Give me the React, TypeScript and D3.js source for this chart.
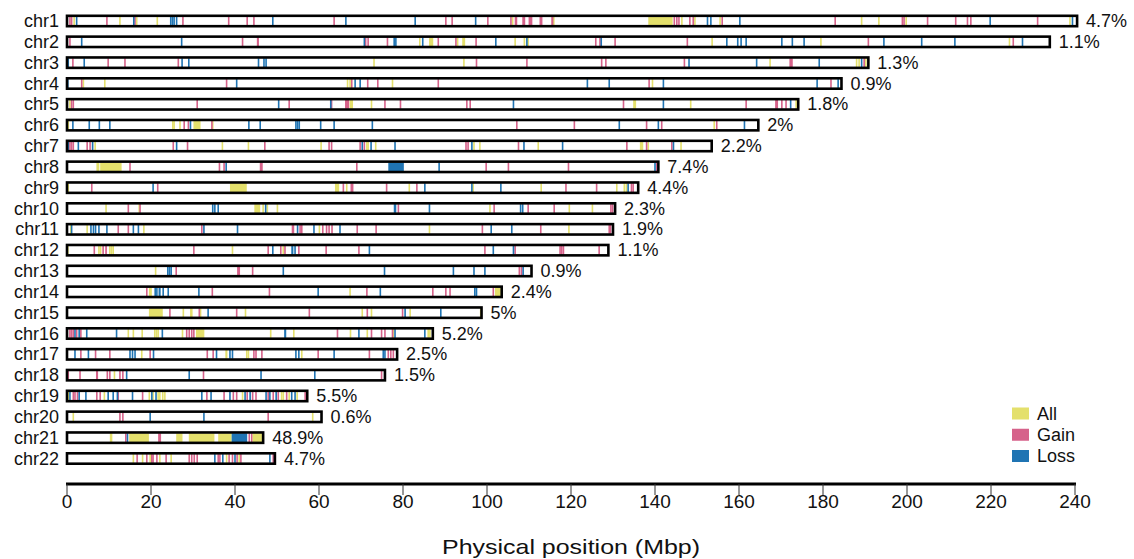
import React from "react";
import * as d3 from "d3";

// chromosome names, lengths (Mbp, as drawn) and the percentage shown at the end of each bar
const CHROMS = [
  "chr1", "chr2", "chr3", "chr4", "chr5", "chr6", "chr7", "chr8", "chr9", "chr10", "chr11",
  "chr12", "chr13", "chr14", "chr15", "chr16", "chr17", "chr18", "chr19", "chr20", "chr21", "chr22",
];
const LENGTHS = [
  240.5, 234, 190.8, 184.4, 174.1, 164.6, 153.5, 140.8, 136, 130.5, 130,
  128.9, 110.6, 103.5, 98.7, 87.1, 78.6, 75.7, 57.2, 60.6, 46.7, 49.5,
];
const PERCENTS = [
  "4.7%", "1.1%", "1.3%", "0.9%", "1.8%", "2%", "2.2%", "7.4%", "4.4%", "2.3%", "1.9%",
  "1.1%", "0.9%", "2.4%", "5%", "5.2%", "2.5%", "1.5%", "5.5%", "0.6%", "48.9%", "4.7%",
];
const X_TICKS = [0, 20, 40, 60, 80, 100, 120, 140, 160, 180, 200, 220, 240];

// thin marks (positions in Mbp), one list per chromosome
const gainMarks: number[][] = [
  [0.7, 1.1, 9.5, 16.2, 27.6, 38.5, 42.9, 44.5, 63.6, 90.2, 91.7, 100.2, 105.7, 144.6, 145.2, 145.7, 148.3, 149.1, 156, 182.9, 198.9, 199.3, 204.9, 211.6, 214.4, 215.2, 231.1],
  [0.7, 41.8, 71.1, 71.7, 76.3, 88.4, 92.6, 97.4, 125.9, 126.9, 130.5, 147.7, 190.8, 225.3],
  [1.4, 9.8, 13.8, 26.5, 97.5, 109.5, 127.3, 128.3, 147, 189.8],
  [3.5, 38, 67.8, 71.6, 74, 88.4, 138.6, 181.9],
  [1.1, 1.5, 31, 52.9, 63, 75.7, 79.4, 95.2, 96, 132.5, 161.7, 170.2, 171.2],
  [27.9, 28.9, 34.5, 107.1, 120.8, 138, 141.6, 154.7],
  [0.7, 1.1, 1.5, 4.8, 5.5, 25.3, 28.7, 47.1, 62.4, 63, 69.8, 70.8, 95, 95.5, 107.5, 133.3, 138, 144],
  [15, 36.3, 37.4, 69, 99.8, 105.1, 119.4, 140.4],
  [5.9, 21.6, 65.8, 76.1, 83.3, 118.8, 126.1, 134.4, 134.8],
  [14.6, 17.4, 78.9, 101.7, 109.8, 116, 129.5, 129.9],
  [12.2, 14.6, 32.1, 55.5, 55.9, 60.9, 61.8, 62.4, 63.1, 69.1, 73.6, 98.9, 112.8, 129.1, 129.4],
  [6.5, 8.6, 30.2, 47.9, 50.9, 51.9, 55.2, 61.7, 69.5, 99.5, 106.7, 117.4, 117.8, 118.2, 126.7],
  [26, 44.2, 107.7, 108.2],
  [19, 34.6, 48.2, 71.4, 87.1, 90.2, 91.2, 101.5],
  [24.5, 31.5, 40.4, 57.7, 71.5, 79.9],
  [0.7, 1.1, 1.5, 2.3, 3.3, 28.5, 29.1, 29.7, 30.2, 64.4, 72.5, 74.9, 75.7, 77.5],
  [3.3, 6.8, 10.2, 19.8, 33.4, 34.8, 44.5, 45, 46.4, 59.8, 72, 76.5, 77.1, 77.7],
  [0.3, 3.1, 9.6, 10.2, 12.6, 13.3, 32.5, 74.9],
  [1.5, 1.9, 2.5, 7.1, 7.9, 12.2, 18, 33.3, 37.4, 39.6, 40.4, 42.9, 44.2, 45, 47.9, 49.1, 50.3, 52.3, 56.7],
  [12.6, 13.3, 47.9],
  [14, 43.4],
  [16.7, 19, 20.5, 21.4, 23.6, 29.1, 29.7, 30.3, 31, 36, 36.4, 38.6, 39.4, 40.5, 41.4, 49.1],
];
const allMarks: number[][] = [
  [1.7, 12.6, 16.6, 21.5, 106.1, 115.9, 146.4, 149.5, 155.5, 189.2, 193.3, 199.8, 238.8],
  [84, 93, 106.7, 108.9, 109.8, 153.6, 179.5, 224.4],
  [73.1, 94.5, 167.4, 188, 188.6, 190.2],
  [3.9, 9, 66.8, 67.4, 77.5, 139.4],
  [0.7, 72.5, 148.5, 173.6],
  [0.3, 25.2, 25.5, 26.9, 34.7, 154.1],
  [6.7, 37, 43.2, 60.5, 71.4, 71.7, 73.5, 96.9, 98.3, 112.2, 138.4, 146.2],
  [],
  [0.3, 66.6, 81.5, 96.7, 112.9, 130.9, 132.7, 133.2],
  [9.3, 17.2, 46.7, 47.7, 50.1, 100.7, 119.6, 125.1],
  [0.9, 4.8, 18.3, 60.1, 86.3, 119.5],
  [0.2, 7.6, 8, 10.2, 10.6, 11, 39.4, 51.5],
  [21.1],
  [67.4],
  [27.7, 31.8, 42.5, 70.3, 72.5, 81.7, 98.5],
  [14.6, 15.8, 17.9, 20.9, 21.3, 21.7, 27.5, 48.5, 54, 67.5, 71.5, 77.7, 86, 86.4],
  [17.8, 42.8, 43.2, 55.9],
  [11.3],
  [0.3, 8.9, 19.6, 20.5, 21.7, 22.1, 22.8, 23.3, 41.8, 51.1, 51.5, 52.9, 54.8],
  [1.5, 58.5],
  [],
  [15.8, 18, 19.8, 22.1, 24.8, 38, 41],
];
const lossMarks: number[][] = [
  [2.3, 15.9, 24.7, 25.1, 25.5, 26.1, 49, 66.4, 82.9, 97.3, 152.5, 153.3, 160.2, 219.8, 239.4],
  [3.5, 27.3, 70.8, 77.9, 78.3, 84.7, 102.1, 109.5, 127.2, 157.1, 159.7, 160.5, 161.7, 170.2, 172.7, 175.5, 194.5, 203.5, 211.4, 227.5],
  [0.3, 4.1, 27.4, 29, 45.6, 46.9, 47.4, 148.1, 164.2, 179.1, 189.2],
  [0.2, 40.4, 68.6, 69.8, 123.9, 129.1, 142, 178.6, 183.6],
  [50.4, 62.8, 106.3, 142, 172.3],
  [1.4, 5.3, 7.7, 10.2, 29.4, 43.3, 46, 54.5, 54.9, 55.3, 60.4, 63.6, 72.7, 131.5, 140.8, 161.3],
  [0.3, 2.7, 6.1, 26.1, 70.3, 72.4, 78.1, 96.4, 108.8, 118, 144.4],
  [37.9, 88.6, 140],
  [20.5, 85.2, 96.4, 103.3, 133.6],
  [34.7, 35.2, 36, 47.3, 86.3, 108, 108.5],
  [1.1, 5.7, 6.3, 6.8, 7.6, 9.5, 15.8, 17, 32.6, 40.6, 54.9, 58.8, 65, 101, 105.9],
  [49, 54.3, 72, 101.5, 106.3],
  [24, 24.4, 24.8, 51.5, 75.6, 92, 96.9, 99.5, 108.6],
  [21, 21.4, 22.9, 24.1, 31.4, 59.8, 74.6, 97.1, 97.5],
  [33.6, 80.5, 89],
  [1.9, 2.9, 4.7, 11.8, 22.7, 69.5, 78.1, 85.2],
  [1.9, 5.1, 15, 15.6, 16.2, 20.6, 35.6, 38.8, 39.4, 54.5, 55.2, 63.6, 75.3, 75.7],
  [14.2, 29.1, 46.2, 59],
  [0.7, 2.9, 4.5, 9.8, 11, 12, 15.6, 20.2, 21.2, 32.1, 34.3, 38.8, 42.4, 43.6, 47.4, 48.3, 49.8, 53.5, 54.3],
  [19.8, 32.6],
  [14.4],
  [35.2, 37.1, 40, 48.3],
];

// wider segments: [chromosome index, start, end, type]
const blocks: [number, number, number, string][] = [
  [0, 138.4, 144.2, "All"], [0, 106.6, 107.2, "Gain"], [0, 108.4, 109.1, "Gain"], [0, 109.9, 110.8, "Gain"],
  [0, 112.5, 113.2, "Gain"], [0, 115.3, 115.8, "Gain"],
  [1, 86.2, 87.2, "All"], [1, 94.1, 94.8, "All"], [1, 45.2, 45.7, "Gain"],
  [2, 172, 172.8, "Gain"],
  [4, 66.2, 67.2, "Gain"], [4, 67.3, 68.1, "All"], [4, 134.8, 135.5, "All"], [4, 168.6, 169.3, "Gain"],
  [5, 30.1, 31.8, "All"],
  [6, 136.4, 137.2, "All"],
  [7, 7.0, 7.7, "All"], [7, 7.9, 13, "All"], [7, 45.9, 46.6, "Gain"], [7, 76.5, 80.2, "Loss"],
  [8, 38.8, 42.8, "All"], [8, 63.8, 64.8, "All"], [8, 67.5, 68.2, "Gain"],
  [9, 44.6, 46, "All"], [9, 77.8, 78.4, "Loss"],
  [10, 53.5, 54.1, "Gain"],
  [11, 9.1, 9.5, "Gain"], [11, 53.4, 53.9, "Loss"],
  [12, 40.5, 41.2, "Gain"],
  [13, 19.5, 20.2, "All"], [13, 21.8, 22.3, "Loss"], [13, 101.9, 103.3, "All"],
  [14, 19.5, 22.8, "All"], [14, 29.3, 29.9, "All"],
  [15, 30.7, 32.7, "All"], [15, 51.7, 52.2, "Loss"],
  [16, 37.7, 38.2, "All"],
  [17, 6.9, 7.4, "Gain"],
  [20, 10.2, 10.8, "All"], [20, 14.8, 19.5, "All"], [20, 21.7, 22.4, "Gain"], [20, 26, 27.5, "All"],
  [20, 29, 35.1, "All"], [20, 36, 39.2, "All"], [20, 39.2, 42.9, "Loss"], [20, 43.8, 44.2, "Gain"],
  [20, 44.2, 46.6, "All"],
  [21, 20, 20.4, "Gain"],
];

const LEGEND = ["All", "Gain", "Loss"];
const COLORS: Record<string, string> = { All: "#e4e06c", Gain: "#d6628a", Loss: "#1f74b3" };

const FONT = "'Liberation Sans', Arial, sans-serif";

export default function App() {
  const x = d3.scaleLinear().domain([0, 240]).range([67, 1075]);
  const y = d3.scalePoint<string>().domain(CHROMS).range([21, 458.5]);
  const legendY = d3.scalePoint<string>().domain(LEGEND).range([413.5, 456]);

  const markH = 4.4; // half height of a mark
  const thin = 1.6;

  const markRows = [
    { type: "All", rows: allMarks },
    { type: "Gain", rows: gainMarks },
    { type: "Loss", rows: lossMarks },
  ];

  return (
    <svg width={1134} height={559} style={{ position: "absolute", left: 0, top: 0, background: "#fff" }}>
      {CHROMS.map((c, i) => {
        const cy = y(c) as number;
        const x1 = x(LENGTHS[i]);
        return (
          <g key={c}>
            <text x={59} y={cy} textAnchor="end" dominantBaseline="central"
              fontFamily={FONT} fontSize={18} fill="#111">{c}</text>
            <rect x={x(0)} y={cy - 5.2} width={x1 - x(0)} height={10.4} fill="#fff" />
            {markRows.map(({ type, rows }) =>
              rows[i].map((p, k) => (
                <rect key={type + k} x={x(p) - thin / 2} y={cy - markH} width={thin}
                  height={markH * 2} fill={COLORS[type]} />
              ))
            )}
            {blocks.filter(b => b[0] === i).map((b, k) => (
              <rect key={"b" + k} x={x(b[1])} y={cy - markH} width={Math.max(x(b[2]) - x(b[1]), thin)}
                height={markH * 2} fill={COLORS[b[3]]} />
            ))}
            <rect x={x(0)} y={cy - 5.2} width={x1 - x(0)} height={10.4} fill="none"
              stroke="#000" strokeWidth={2.6} />
            <text x={x1 + 9} y={cy} dominantBaseline="central"
              fontFamily={FONT} fontSize={18} fill="#111">{PERCENTS[i]}</text>
          </g>
        );
      })}

      {/* legend */}
      {LEGEND.map(k => {
        const ly = legendY(k) as number;
        return (
          <g key={k}>
            <rect x={1012} y={ly - 6} width={17} height={12} fill={COLORS[k]} />
            <text x={1037} y={ly} dominantBaseline="central" fontFamily={FONT} fontSize={18} fill="#111">{k}</text>
          </g>
        );
      })}

      {/* x axis */}
      <line x1={x(0) - 1} x2={x(240) + 1} y1={484} y2={484} stroke="#000" strokeWidth={3} />
      {X_TICKS.map(t => (
        <g key={t}>
          <line x1={x(t)} x2={x(t)} y1={484} y2={495} stroke="#333" strokeWidth={1} />
          <text x={x(t)} y={501} textAnchor="middle" dominantBaseline="central"
            fontFamily={FONT} fontSize={19} fill="#111">{t}</text>
        </g>
      ))}
      <text x={x(120)} y={546} textAnchor="middle" dominantBaseline="central"
        fontFamily={FONT} fontSize={21} fill="#111" textLength={258}
        lengthAdjust="spacingAndGlyphs">Physical position (Mbp)</text>
    </svg>
  );
}
